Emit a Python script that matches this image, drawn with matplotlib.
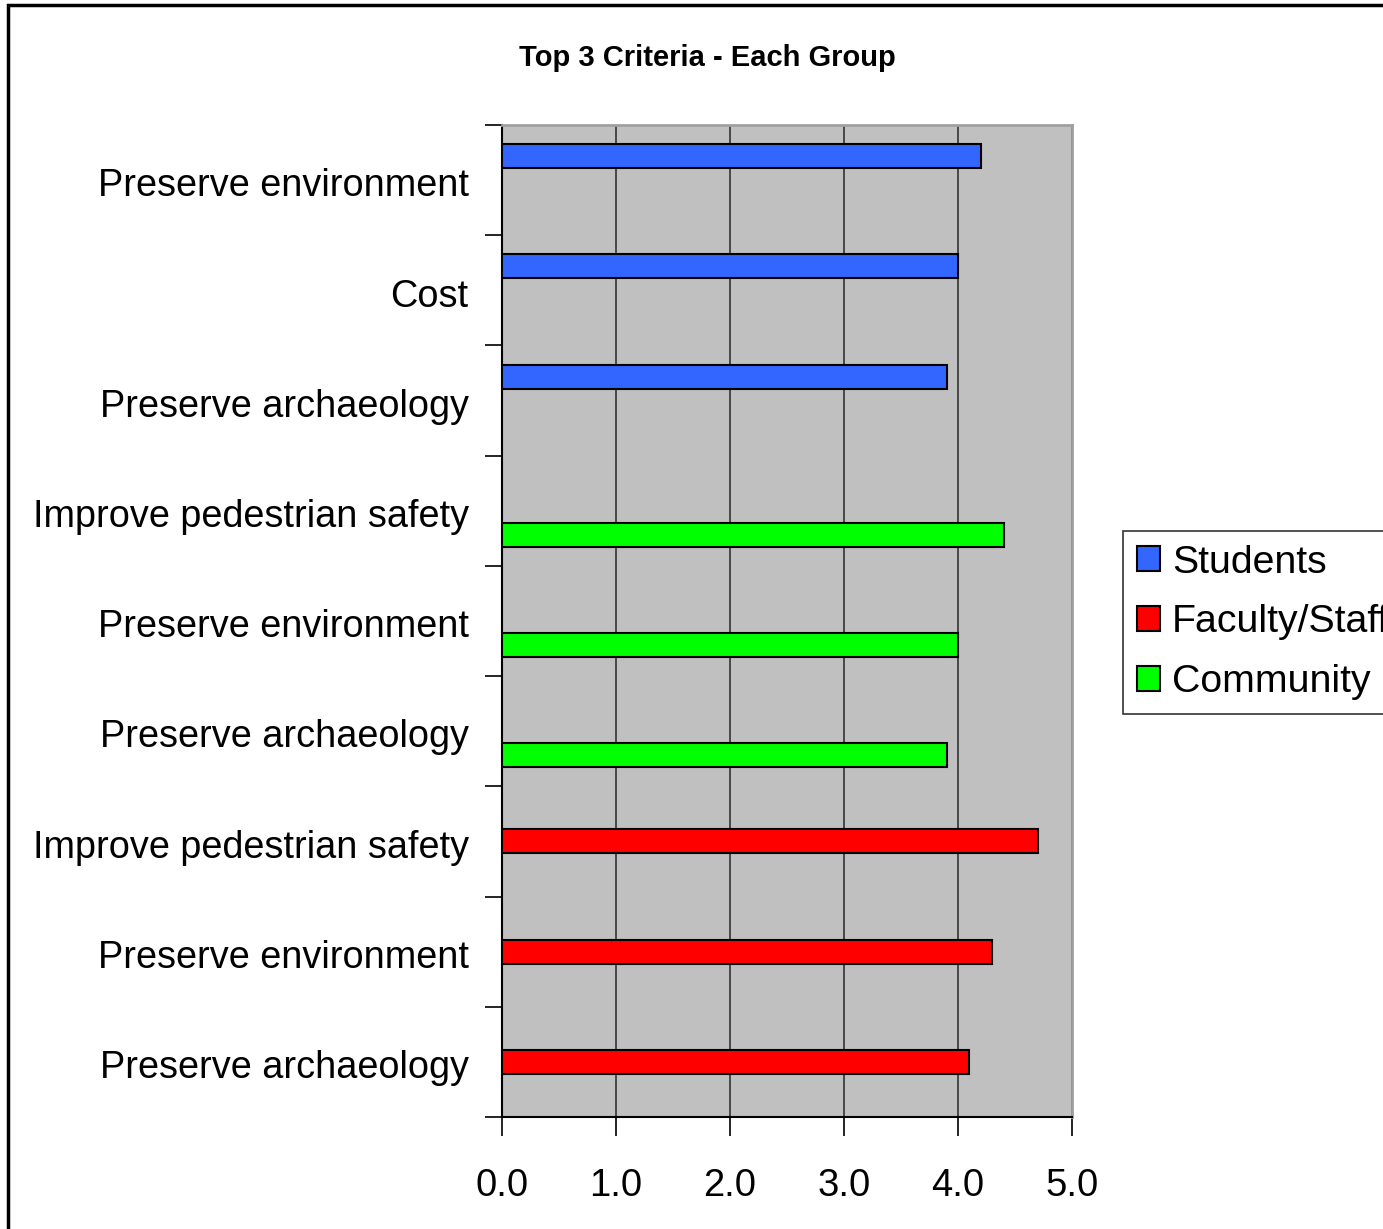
import matplotlib.pyplot as plt
from matplotlib.patches import Rectangle, Patch

# categories top to bottom
categories = ["Preserve environment", "Cost", "Preserve archaeology",
              "Improve pedestrian safety", "Preserve environment", "Preserve archaeology",
              "Improve pedestrian safety", "Preserve environment", "Preserve archaeology"]
series = ["Students", "Faculty/Staff", "Community"]
students = [4.2, 4.0, 3.9, None, None, None, None, None, None]
faculty = [None, None, None, None, None, None, 4.7, 4.3, 4.1]
community = [None, None, None, 4.4, 4.0, 3.9, None, None, None]
colors = ["#3366FF", "#FF0000", "#00FF00"]
xticks = [0, 1, 2, 3, 4, 5]

plt.rcParams['font.family'] = ['Liberation Sans', 'DejaVu Sans']

fig = plt.figure(figsize=(13.83, 12.29), dpi=100)
ax = fig.add_axes([502/1383, 1 - 1117/1229, 570/1383, 992/1229])
ax.set_facecolor("#C0C0C0")

bh = 0.218
offsets = [-bh, 0, bh]
for vals, col, off in zip([students, faculty, community], colors, offsets):
    for i, v in enumerate(vals):
        if v is not None:
            ax.barh(i + 0.5 + off, v, height=bh, color=col, edgecolor="black", linewidth=1.5, zorder=3)

ax.set_xlim(0, 5)
ax.set_ylim(len(categories), 0)
ax.set_xticks(xticks)
ax.set_xticklabels([f"{t:.1f}" for t in xticks], fontsize=27.5)
ax.set_yticks([i for i in range(len(categories) + 1)])
ax.set_yticklabels([])
ax.set_yticks([i + 0.52 for i in range(len(categories))], minor=True)
ax.set_yticklabels(categories, minor=True, fontsize=27.3)
ax.tick_params(axis='y', which='minor', length=0, pad=24)
ax.tick_params(axis='y', which='major', length=12, width=1.2, direction='out')
ax.tick_params(axis='x', length=14, width=1.2, direction='out', pad=23)
ax.grid(axis='x', color="#333333", linewidth=1.2, zorder=1)
ax.set_axisbelow(True)

for s in ['top', 'right']:
    ax.spines[s].set_color("#A0A0A0")
    ax.spines[s].set_linewidth(2)
for s in ['left', 'bottom']:
    ax.spines[s].set_color("black")
    ax.spines[s].set_linewidth(1.5)

fig.text(707/1383, 1 - 58/1229, "Top 3 Criteria - Each Group", fontsize=21,
         fontweight='bold', ha='center', va='center')

handles = [Patch(facecolor=c, edgecolor='black', linewidth=1.5) for c in colors]
leg = fig.legend(handles, series, loc='upper left', bbox_to_anchor=(1123/1383, 1 - 531/1229),
                 fontsize=28.3, frameon=True, fancybox=False, edgecolor='black',
                 handlelength=0.6, handleheight=0.6, handletextpad=0.3,
                 borderpad=0.35, labelspacing=0.6, borderaxespad=0)
leg.get_frame().set_linewidth(1.2)

# chart area border
fig.patches.append(Rectangle((8/1383, -0.1), 1.2, 1 - 5/1229 + 0.1,
                             transform=fig.transFigure, fill=False,
                             edgecolor='black', linewidth=2.5))

fig.savefig("out.png", dpi=100)
